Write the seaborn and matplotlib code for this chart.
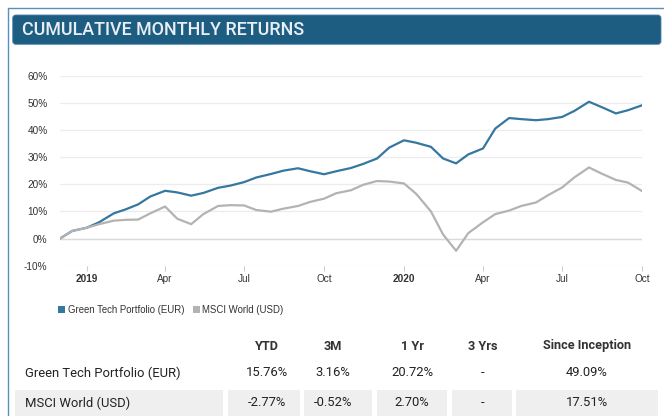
import numpy as np
import pandas as pd
import matplotlib
matplotlib.use("Agg")
import matplotlib.pyplot as plt
import matplotlib.dates as mdates
from matplotlib.patches import FancyBboxPatch, Rectangle
from matplotlib.transforms import IdentityTransform
from matplotlib.lines import Line2D
import seaborn as sns

# ---------------- data ----------------
dates = pd.date_range("2018-12-01", "2020-10-01", freq="SMS")
green_tech = [0, 2.8, 4.0, 6.0, 9.3, 10.8, 12.6, 15.5, 17.6, 17.0, 15.8, 16.8, 18.7, 19.5,
              20.8, 22.5, 23.8, 25.0, 25.9, 24.8, 23.7, 24.8, 26.0, 27.5, 29.5, 33.5, 36.2,
              35.3, 33.8, 29.5, 27.7, 31.0, 33.2, 40.5, 44.4, 44.0, 43.6, 44.0, 44.8, 47.0,
              50.4, 48.5, 46.1, 47.3, 49.09]
msci_world = [0, 2.8, 4.0, 5.3, 6.6, 6.9, 7.0, 9.3, 11.8, 7.3, 5.3, 9.0, 12.0, 12.3,
              12.2, 10.5, 9.9, 11.0, 12.0, 13.5, 14.7, 16.7, 17.8, 19.8, 21.2, 21.0, 20.3,
              16.5, 10.0, 1.5, -4.5, 2.0, 6.0, 9.0, 10.3, 12.0, 13.3, 16.0, 18.8, 22.5,
              26.2, 24.0, 21.6, 20.6, 17.51]
series_names = ["Green Tech Portfolio (EUR)", "MSCI World (USD)"]
y_ticks = [-10, 0, 10, 20, 30, 40, 50, 60]
x_tick_dates = ["2019-01-01", "2019-04-01", "2019-07-01", "2019-10-01",
                "2020-01-01", "2020-04-01", "2020-07-01", "2020-10-01"]
x_tick_labels = ["2019", "Apr", "Jul", "Oct", "2020", "Apr", "Jul", "Oct"]

table_columns = ["YTD", "3M", "1 Yr", "3 Yrs", "Since Inception"]
table_rows = ["Green Tech Portfolio (EUR)", "MSCI World (USD)"]
green_tech_stats = ["15.76%", "3.16%", "20.72%", "-", "49.09%"]
msci_world_stats = ["-2.77%", "-0.52%", "2.70%", "-", "17.51%"]

title = "CUMULATIVE MONTHLY RETURNS"

# ---------------- style ----------------
sns.set_theme(style="white")
plt.rcParams["font.family"] = ["Liberation Sans", "DejaVu Sans"]

BLUE = "#3677a0"
GRAY = "#b3b3b3"
palette = {series_names[0]: BLUE, series_names[1]: GRAY}

W, H = 664, 416
fig = plt.figure(figsize=(W / 100, H / 100), dpi=100)
fig.patch.set_facecolor("white")

def px(x0, y0, x1, y1):
    """convert top-left pixel box to figure fraction rect"""
    return [x0 / W, 1 - y1 / H, (x1 - x0) / W, (y1 - y0) / H]

ident = IdentityTransform()

# outer card border
fig.add_artist(Line2D([8.3, 8.3], [H - 8.3, -5], transform=ident, color="#5b8fb8", lw=1.0))
fig.add_artist(Line2D([8.3, W + 5], [H - 8.3, H - 8.3], transform=ident, color="#5b8fb8", lw=1.0))

# title bar
fig.add_artist(FancyBboxPatch((12.7, H - 44.3), 661 - 12.7, 44.3 - 15,
                              boxstyle="round,pad=0,rounding_size=3",
                              transform=ident, facecolor="#1d5d82", edgecolor="#4f86ad", lw=0.6))
fig.text(21.5 / W, 1 - 30 / H, title, color="#e8eef3", fontsize=12.9, fontweight="medium",
         family=["Roboto", "DejaVu Sans"], va="center", ha="left")

# ---------------- chart ----------------
ax = fig.add_axes(px(60, 75.7, 642, 265.7))
df = pd.DataFrame({
    "date": list(dates) * 2,
    "value": green_tech + msci_world,
    "series": [series_names[0]] * len(dates) + [series_names[1]] * len(dates),
})
sns.lineplot(data=df, x="date", y="value", hue="series", palette=palette,
             ax=ax, lw=1.6, legend=False, zorder=3)

ax.set_xlim(dates[0], dates[-1])
ax.set_ylim(-10, 60)
ax.set_yticks(y_ticks)
ax.set_yticklabels([f"{v}%" for v in y_ticks])
ax.set_xticks(pd.to_datetime(x_tick_dates))
ax.set_xticklabels(x_tick_labels)
for lab in ax.get_xticklabels():
    if lab.get_text() in ("2019", "2020"):
        lab.set_fontweight("bold")
ax.set_xlabel("")
ax.set_ylabel("")
for s in ax.spines.values():
    s.set_visible(False)
ax.grid(axis="y", color="#ececec", lw=0.9, zorder=0)
ax.grid(axis="x", visible=False)
ax.axhline(0, color="#dadada", lw=1.0, zorder=1)
ax.tick_params(axis="y", length=0, pad=9, labelsize=7.2, labelcolor="#333333")
ax.tick_params(axis="x", length=3.6, width=0.8, color="#cccccc", direction="out",
               pad=2.5, labelsize=7.2, labelcolor="#333333", bottom=True)

# legend (manual)
leg_items = [(58, series_names[0], BLUE), (193, series_names[1], GRAY)]
for x0, name, col in leg_items:
    fig.add_artist(Rectangle((x0, H - 313), 7, 7, transform=ident, facecolor=col, edgecolor="none"))
    fig.text((x0 + 9.5) / W, 1 - 310 / H, name, fontsize=6.9, color="#333333",
             va="center", ha="left")

# ---------------- table ----------------
col_x = [267, 333, 412, 483, 587]
cell_bounds = [(15, 223), (228, 300), (304, 372), (377, 447), (452, 512), (516, 658)]
for x0, x1 in cell_bounds:
    fig.add_artist(Rectangle((x0, H - 420), x1 - x0, 420 - 390, transform=ident,
                             facecolor="#efefef", edgecolor="none"))

tfont = ["Roboto", "DejaVu Sans"]
for cx, c in zip(col_x, table_columns):
    fig.text(cx / W, 1 - 346 / H, c, fontsize=9.2, fontweight="bold", color="#333333",
             family=tfont, ha="center", va="center")
for ry, rname, vals in [(373, table_rows[0], green_tech_stats), (403, table_rows[1], msci_world_stats)]:
    fig.text(25 / W, 1 - ry / H, rname, fontsize=9.4, color="#222222", family=tfont,
             ha="left", va="center")
    for cx, v in zip(col_x, vals):
        fig.text(cx / W, 1 - ry / H, v, fontsize=9.4, color="#222222", family=tfont,
                 ha="center", va="center")

fig.savefig("out.png", dpi=100)
